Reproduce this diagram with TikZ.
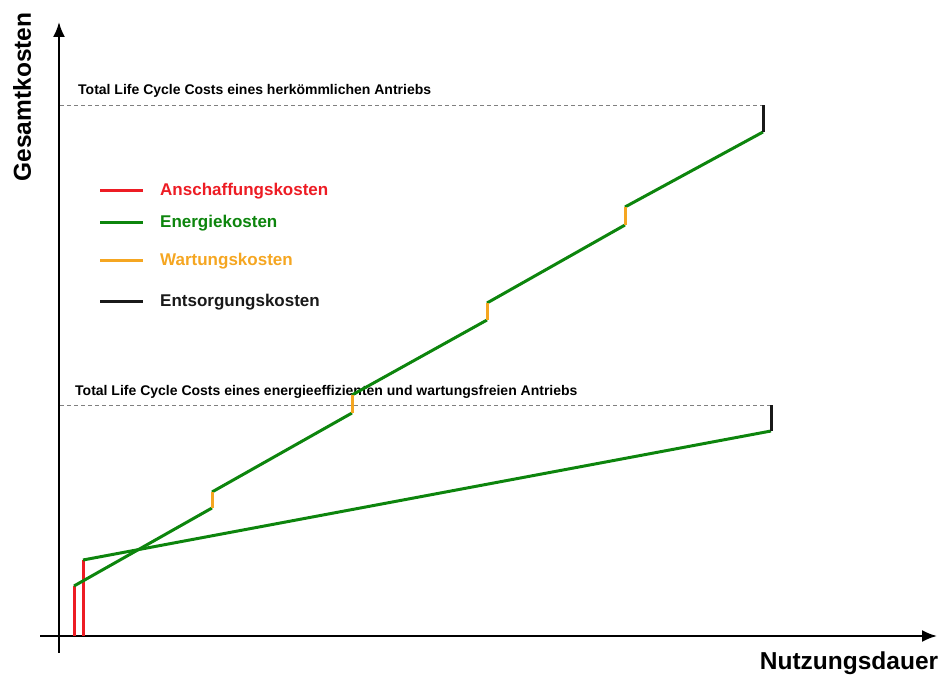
\documentclass[tikz,border=0pt]{standalone}
\usepackage{fontspec}
\setmainfont{Liberation Sans}
\usepackage{tikz}
\usetikzlibrary{arrows.meta}
\definecolor{anschaff}{rgb}{0.93, 0.11, 0.14}
\definecolor{energie}{rgb}{0.05, 0.52, 0.05}
\definecolor{wartung}{rgb}{0.96, 0.65, 0.13}
\definecolor{entsorg}{rgb}{0.1, 0.1, 0.1}
\tikzstyle{axis line}=[line width=2.2pt, -{Latex[length=15pt,width=12pt]}]
\tikzstyle{cost line}=[line width=3pt]
\tikzstyle{total line}=[gray, dashed, line width=0.9pt, dash pattern=on 4pt off 3pt]
\tikzstyle{legend text}=[anchor=west, inner sep=0pt, font=\bfseries\fontsize{17}{19}\selectfont]
\tikzstyle{total text}=[anchor=west, inner sep=0pt, font=\bfseries\fontsize{14}{16}\selectfont]

\begin{document}
\begin{tikzpicture}[x=1pt,y=1pt]
\useasboundingbox (0,0) rectangle (944,682);
% axes
\coordinate (o) at (59,46);
\draw[axis line] (59,29) -- (59,660);
\draw[axis line] (40,46) -- (937,46);
\node[rotate=90, font=\bfseries\fontsize{24.5}{27}\selectfont] (ylab) at (22,585) {Gesamtkosten};
\node[font=\bfseries\fontsize{24.5}{27}\selectfont] (xlab) at (849,19) {Nutzungsdauer};
% herkoemmlicher Antrieb
\coordinate (a0) at (74,96);
\coordinate (a1) at (212,174);
\coordinate (b1) at (212,190);
\coordinate (a2) at (352,269);
\coordinate (b2) at (352,287);
\coordinate (a3) at (487,362);
\coordinate (b3) at (487,379);
\coordinate (a4) at (625,457);
\coordinate (b4) at (625,475);
\coordinate (a5) at (763,550);
\coordinate (b5) at (763,577);
% effizienter Antrieb
\coordinate (e0) at (83,122);
\coordinate (e1) at (771,251);
\coordinate (f1) at (771,277);
% totals
\draw[total line] (60,577) -- (b5);
\draw[total line] (60,277) -- (f1);
\node[total text] (tot1) at (78,591) {Total Life Cycle Costs eines herkömmlichen Antriebs};
\node[total text] (tot2) at (75,290) {Total Life Cycle Costs eines energieeffizienten und wartungsfreien Antriebs};
% kosten
\draw[cost line, anschaff] (74,46) -- (a0);
\draw[cost line, anschaff] (83,46) -- (e0);
\draw[cost line, energie] (a0) -- (a1);
\draw[cost line, energie] (b1) -- (a2);
\draw[cost line, energie] (b2) -- (a3);
\draw[cost line, energie] (b3) -- (a4);
\draw[cost line, energie] (b4) -- (a5);
\draw[cost line, wartung] (a1) -- (b1);
\draw[cost line, wartung] (a2) -- (b2);
\draw[cost line, wartung] (a3) -- (b3);
\draw[cost line, wartung] (a4) -- (b4);
\draw[cost line, entsorg] (a5) -- (b5);
\draw[cost line, energie] (e0) -- (e1);
\draw[cost line, entsorg] (e1) -- (f1);
% legende
\draw[cost line, anschaff] (100,491) -- (143,491);
\draw[cost line, energie] (100,459) -- (143,459);
\draw[cost line, wartung] (100,421) -- (143,421);
\draw[cost line, entsorg] (100,380) -- (143,380);
\node[legend text, anschaff] (l1) at (160,491) {Anschaffungskosten};
\node[legend text, energie] (l2) at (160,459) {Energiekosten};
\node[legend text, wartung] (l3) at (160,421) {Wartungskosten};
\node[legend text, entsorg] (l4) at (160,380) {Entsorgungskosten};
\end{tikzpicture}
\end{document}
